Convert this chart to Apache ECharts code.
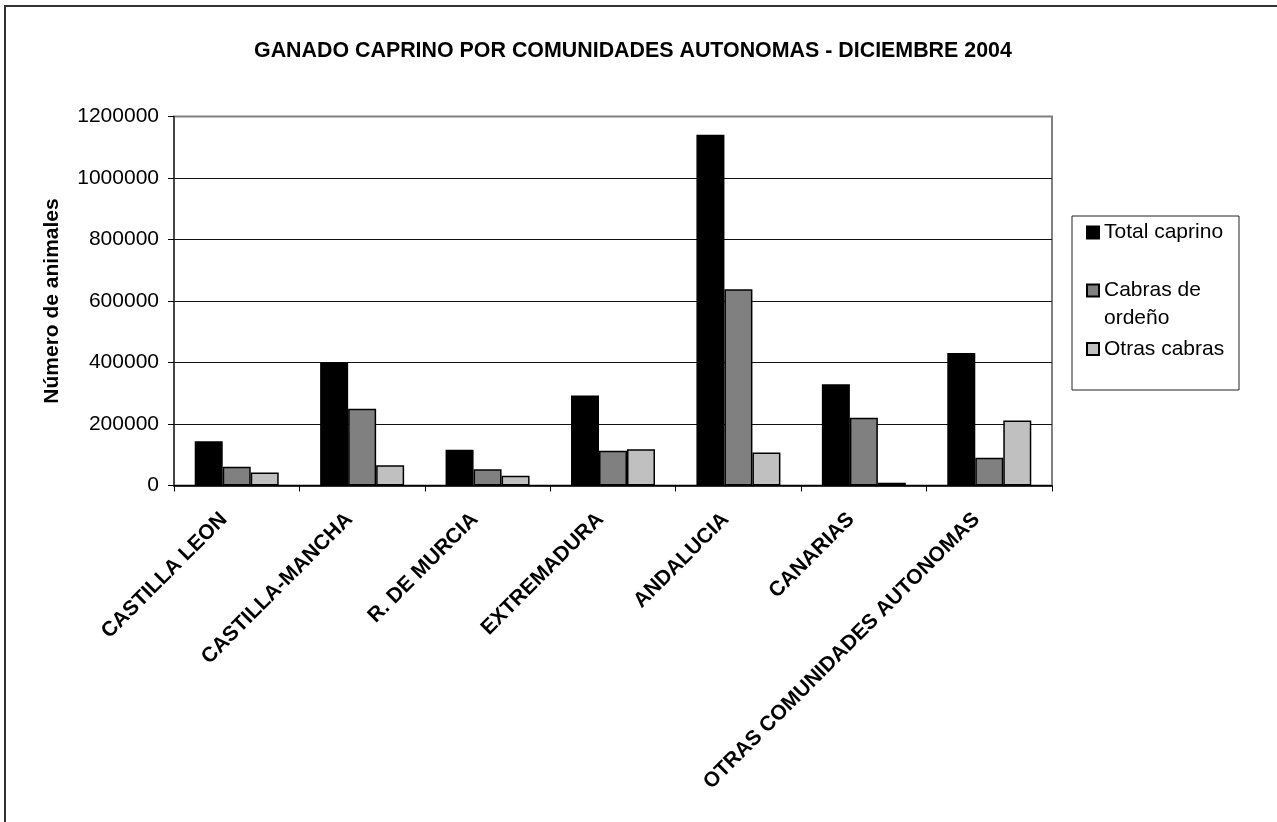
<!DOCTYPE html>
<html>
<head>
<meta charset="utf-8">
<script src="https://cdn.jsdelivr.net/npm/echarts@6/dist/echarts.min.js"></script>
<style>
html,body{margin:0;padding:0;background:#fff;}
#chart{width:1277px;height:822px;}
</style>
</head>
<body>
<div id="chart"></div>
<script>
const titleText = 'GANADO CAPRINO POR COMUNIDADES AUTONOMAS - DICIEMBRE 2004';
const yAxisName = 'Número de animales';
const categories = ['CASTILLA LEON', 'CASTILLA-MANCHA', 'R. DE MURCIA', 'EXTREMADURA', 'ANDALUCIA', 'CANARIAS', 'OTRAS COMUNIDADES AUTONOMAS'];
const seriesNames = ['Total caprino', 'Cabras de ordeño', 'Otras cabras'];
const totalCaprino = [144000, 400000, 116000, 293000, 1141000, 329000, 431000];
const cabrasOrdeno = [61000, 250000, 53000, 113000, 638000, 220000, 90000];
const otrasCabras = [42000, 66000, 32000, 118000, 107000, 9000, 211000];
const yTicks = [0, 200000, 400000, 600000, 800000, 1000000, 1200000];

const FONT = "'Liberation Sans', Arial, Helvetica, sans-serif";
const chart = echarts.init(document.getElementById('chart'), null, {renderer: 'canvas'});

function legendFor(name, top, extra) {
  return Object.assign({
    data: [name],
    left: 1086,
    top: top,
    orient: 'vertical',
    padding: 0,
    itemWidth: 12,
    itemHeight: 12,
    icon: 'rect',
    selectedMode: false,
    textStyle: {fontFamily: FONT, fontSize: 21, color: '#000'}
  }, extra || {});
}

const option = {
  backgroundColor: '#fff',
  animation: false,
  title: {
    text: titleText,
    left: 254,
    top: 41,
    padding: 0,
    textStyle: {fontFamily: FONT, fontSize: 21.4, fontWeight: 'bold', color: '#000'}
  },
  graphic: [
    {type: 'rect', z: -1, shape: {x: 5, y: 6, width: 1300, height: 840}, style: {fill: 'none', stroke: '#333', lineWidth: 2}},
    {type: 'rect', z: 1, shape: {x: 1072, y: 216, width: 167, height: 174}, style: {fill: '#fff', stroke: '#222', lineWidth: 1}}
  ],
  legend: [
    legendFor(seriesNames[0], 222),
    legendFor(seriesNames[1], 248.5, {
      formatter: function () { return ' \nCabras de\nordeño'; },
      textStyle: {fontFamily: FONT, fontSize: 21, color: '#000', lineHeight: 28}
    }),
    legendFor(seriesNames[2], 338.5)
  ],
  grid: {
    left: 174, right: 225, top: 116.5, bottom: 336.5,
    show: true, borderColor: '#808080', borderWidth: 2, backgroundColor: '#fff'
  },
  xAxis: {
    type: 'category',
    data: categories,
    boundaryGap: true,
    axisLine: {show: true, lineStyle: {color: '#000', width: 1.5}},
    axisTick: {show: true, interval: 0, length: 6, lineStyle: {color: '#000', width: 1}},
    axisLabel: {
      interval: 0, rotate: 45, margin: 18, padding: [0, 18, 0, 0],
      fontFamily: FONT, fontSize: 21, fontWeight: 'bold', color: '#000'
    },
    splitLine: {show: false}
  },
  yAxis: {
    type: 'value',
    min: 0, max: 1200000, interval: 200000,
    name: yAxisName,
    nameLocation: 'middle',
    nameRotate: 90,
    nameGap: 111,
    nameTextStyle: {fontFamily: FONT, fontSize: 21, fontWeight: 'bold', color: '#000'},
    axisLine: {show: true, lineStyle: {color: '#333', width: 1.5}},
    axisTick: {show: true, length: 6, lineStyle: {color: '#000', width: 1}},
    axisLabel: {
      margin: 15, fontFamily: FONT, fontSize: 21, color: '#000',
      formatter: function (v) { return yTicks.indexOf(v) >= 0 ? String(v) : ''; }
    },
    splitLine: {show: true, lineStyle: {color: ['#111', '#111', '#111', '#111', '#111', '#111', '#808080'], width: 1}}
  },
  series: [
    {name: seriesNames[0], type: 'bar', data: totalCaprino, barWidth: 28, barGap: '0%',
     itemStyle: {color: '#000000', borderColor: '#000', borderWidth: 1.5}},
    {name: seriesNames[1], type: 'bar', data: cabrasOrdeno, barWidth: 28, barGap: '0%',
     itemStyle: {color: '#808080', borderColor: '#000', borderWidth: 1.5}},
    {name: seriesNames[2], type: 'bar', data: otrasCabras, barWidth: 28, barGap: '0%',
     itemStyle: {color: '#c0c0c0', borderColor: '#000', borderWidth: 1.5}}
  ]
};
chart.setOption(option);
</script>
</body>
</html>
